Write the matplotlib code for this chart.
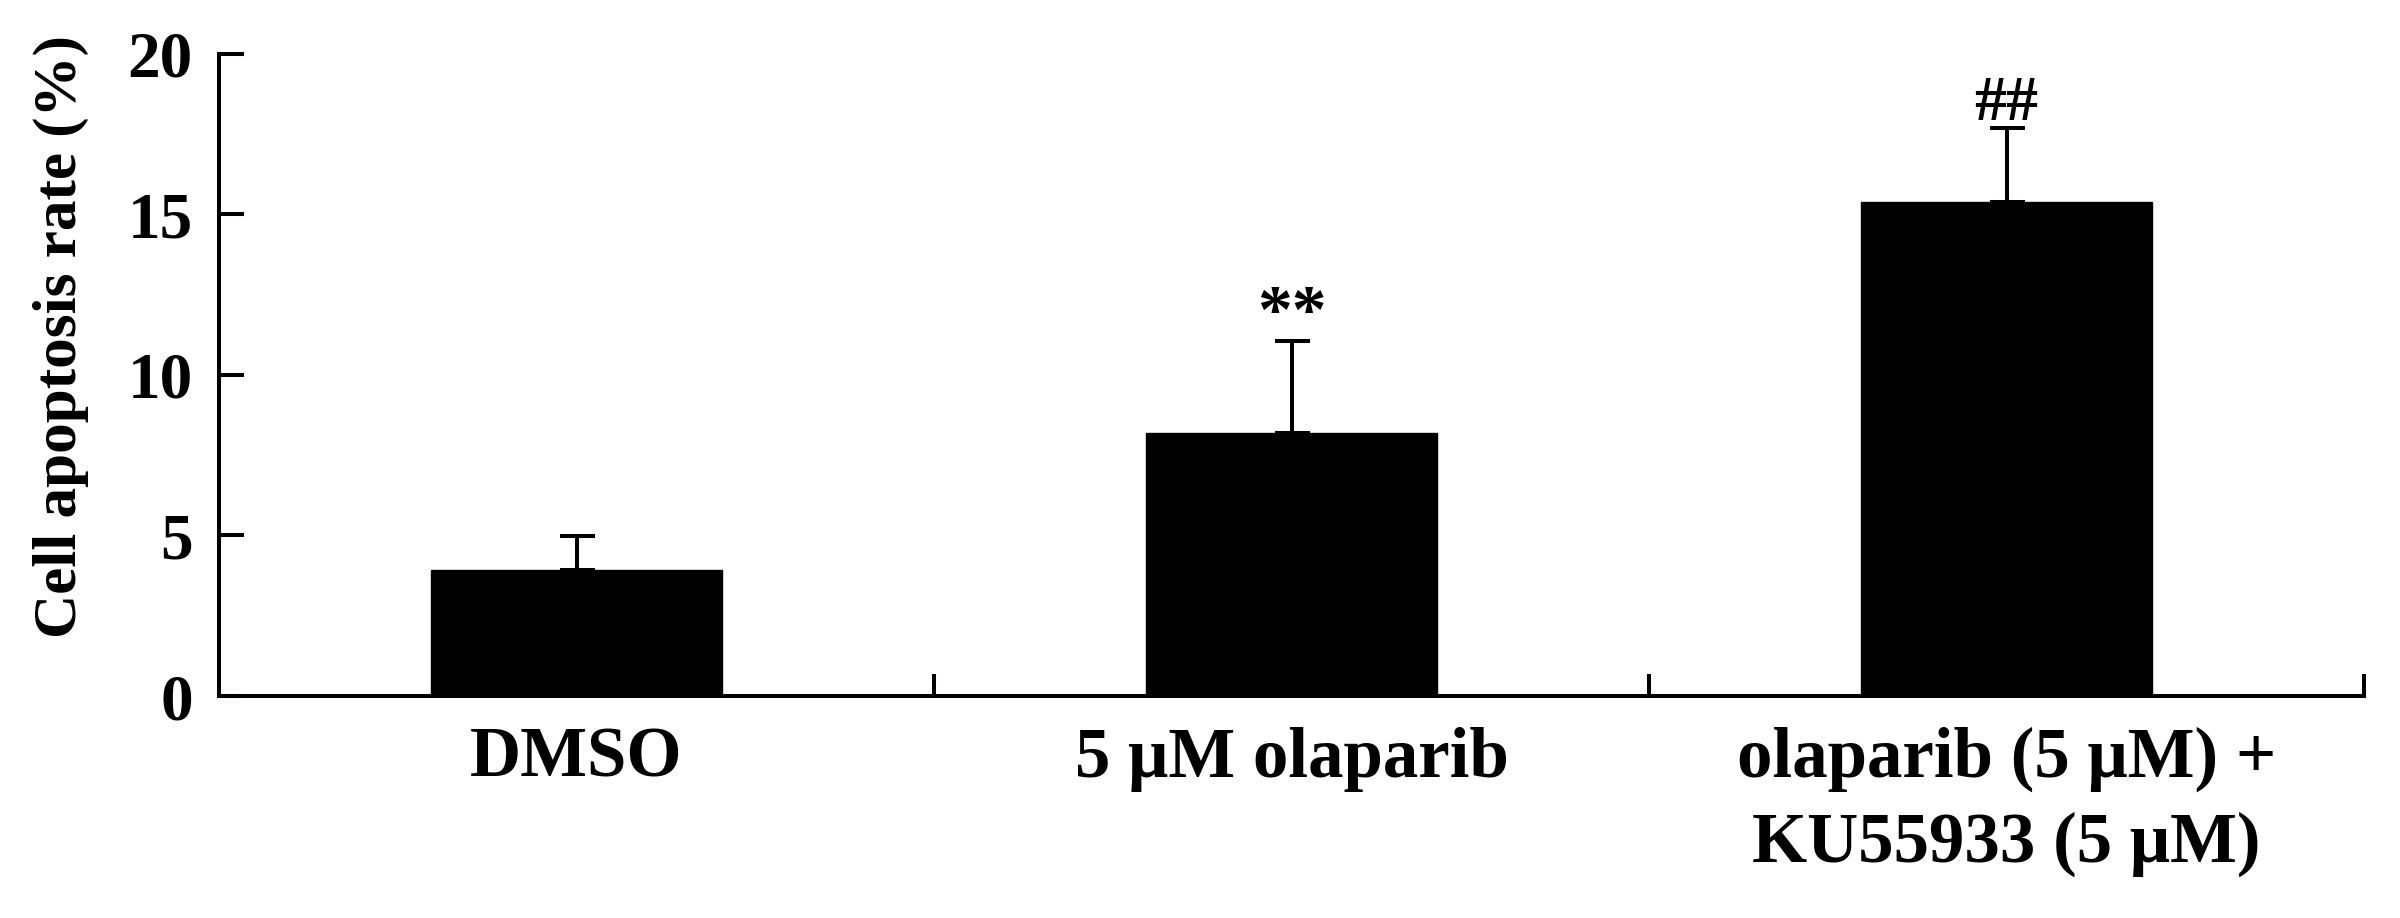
import matplotlib.pyplot as plt
from matplotlib.ticker import FixedLocator

# data
groups = ["DMSO", "5 \u03bcM olaparib", "olaparib (5 \u03bcM) +\nKU55933 (5 \u03bcM)"]
rate_mean = [3.92, 8.19, 15.38]
rate_sd = [1.06, 2.87, 2.3]
marks = ["", "**", "##"]
y_ticks = [0, 5, 10, 15, 20]

plt.rcParams["font.family"] = ["Liberation Serif", "DejaVu Serif"]
plt.rcParams["font.weight"] = "bold"

LW = 2.9

fig = plt.figure(figsize=(24, 9.18), dpi=100)
ax = fig.add_axes([0.0913, 0.2418, 0.8937, 0.6998])

x = list(range(len(groups)))
ax.bar(x, rate_mean, width=0.407, color="black", edgecolor="black", zorder=2)
ax.errorbar(
    x, rate_mean,
    yerr=[[0] * len(rate_sd), rate_sd],
    fmt="none", ecolor="black", elinewidth=LW,
    capsize=12.6, capthick=LW, zorder=3,
)

for xi, m, sd, mk in zip(x, rate_mean, rate_sd, marks):
    if not mk:
        continue
    ax.text(xi, m + sd + 0.25, mk, ha="center", va="baseline",
            fontsize=50 if mk.startswith("*") else 46, fontweight="bold")

ax.set_xlim(-0.5, 2.5)
ax.set_ylim(0, 20)

ax.spines["top"].set_visible(False)
ax.spines["right"].set_visible(False)
for s in ("left", "bottom"):
    ax.spines[s].set_linewidth(LW)

ax.set_yticks(y_ticks)
ax.tick_params(axis="y", direction="in", length=18, width=LW,
               pad=19, labelsize=47)
ax.set_xticks(x)
ax.set_xticklabels(groups, fontsize=51, fontweight="bold", linespacing=1.4)
ax.tick_params(axis="x", which="major", length=0, pad=22)
ax.xaxis.set_minor_locator(FixedLocator([0.5, 1.5, 2.5]))
ax.tick_params(axis="x", which="minor", direction="in", length=16, width=LW)

for lbl in ax.get_yticklabels():
    lbl.set_fontweight("bold")

fig.text(61 / 2400, 1 - 337 / 918, "Cell apoptosis rate (%)", rotation=90,
         ha="center", va="center", fontsize=44, fontweight="bold")

fig.savefig("out.png", dpi=100)
